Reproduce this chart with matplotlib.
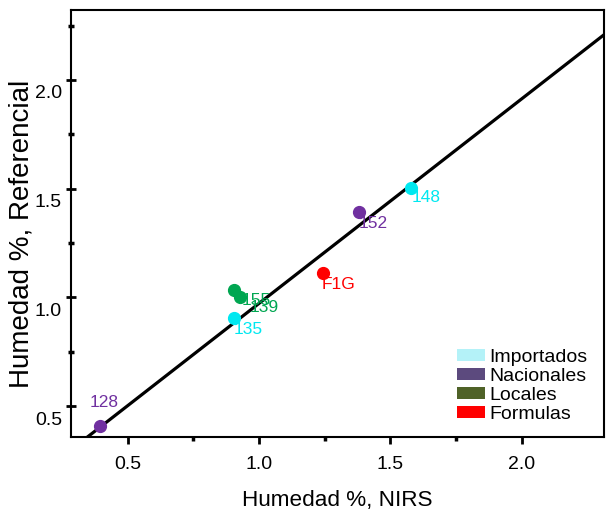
import matplotlib

matplotlib.use('Agg')
import matplotlib.pyplot as plt
import matplotlib.transforms as mtransforms
from matplotlib.patches import Patch

# Muestras: humedad medida por NIRS y por el método de referencia
muestras = ['128', '135', '155', '139', 'F1G', '152', '148']
humedad_nirs = [0.395, 0.906, 0.903, 0.926, 1.242, 1.379, 1.579]
humedad_ref = [0.408, 0.906, 1.035, 1.002, 1.113, 1.394, 1.505]
grupo = ['Nacionales', 'Importados', 'Locales', 'Locales', 'Formulas', 'Nacionales', 'Importados']

# Recta de calibración
pendiente = 0.941
intercepto = 0.0315

grupos = ['Importados', 'Nacionales', 'Locales', 'Formulas']
color_punto = {'Importados': '#00e8f0', 'Nacionales': '#7030a0',
               'Locales': '#00a651', 'Formulas': '#ff0000'}
color_leyenda = {'Importados': '#b4f2f8', 'Nacionales': '#5c4a7e',
                 'Locales': '#4f6228', 'Formulas': '#ff0000'}

# Desplazamiento de cada etiqueta respecto a su punto (en píxeles)
offset_etiqueta = {'128': (4, 24), '135': (14, -12), '155': (23, -11),
                   '139': (25, -11), 'F1G': (16, -12), '152': (15, -12),
                   '148': (15, -10)}

plt.rcParams['font.family'] = ['Liberation Sans', 'DejaVu Sans']

fig = plt.figure(figsize=(6.11, 5.17), dpi=100)
ax = fig.add_axes([0.1162, 0.1553, 0.8719, 0.8254])

ax.axline((0, intercepto), slope=pendiente, color='black', lw=2.3, zorder=2)

for nombre, x, y, g in zip(muestras, humedad_nirs, humedad_ref, grupo):
    ax.plot(x, y, 'o', ms=8.5, color=color_punto[g], mec=color_punto[g], zorder=3)
    dx, dy = offset_etiqueta[nombre]
    ax.annotate(nombre, (x, y), xytext=(dx, dy), textcoords='offset pixels',
                ha='center', va='center', color=color_punto[g], fontsize=12.5)

ax.set_xlim(0.284, 2.312)
ax.set_ylim(0.359, 2.322)
ax.set_xticks([0.5, 1.0, 1.5, 2.0])
ax.set_yticks([0.5, 1.0, 1.5, 2.0])
ax.set_xticks([0.75, 1.25, 1.75], minor=True)
ax.set_yticks([0.75, 1.25, 1.75, 2.25], minor=True)
ax.tick_params(axis='x', which='major', direction='out', length=5, width=2,
               labelsize=14, pad=9)
ax.tick_params(axis='x', which='minor', direction='out', length=3, width=2.5)
ax.tick_params(axis='y', which='major', direction='inout', length=7, width=2,
               labelsize=14, pad=3)
ax.tick_params(axis='y', which='minor', direction='inout', length=4, width=2.5)

# Las etiquetas del eje y quedan un poco por debajo de su marca
bajar = mtransforms.ScaledTranslation(0, -12 / 100, fig.dpi_scale_trans)
for lbl in ax.get_yticklabels():
    lbl.set_transform(lbl.get_transform() + bajar)

for spine in ax.spines.values():
    spine.set_linewidth(1.5)

ax.set_xlabel('Humedad %, NIRS', fontsize=16.2, labelpad=12)
ax.set_ylabel('Humedad %, Referencial', fontsize=20)
ax.yaxis.set_label_coords(-0.068, 0.475)

manejadores = [Patch(facecolor=color_leyenda[g], edgecolor='none') for g in grupos]
ax.legend(manejadores, grupos, loc='lower right', bbox_to_anchor=(0.987, 0.01),
          frameon=False, fontsize=14, handlelength=1.44, handleheight=0.6,
          handletextpad=0.2, labelspacing=0.1, borderpad=0)

fig.savefig('out.png', dpi=100)
